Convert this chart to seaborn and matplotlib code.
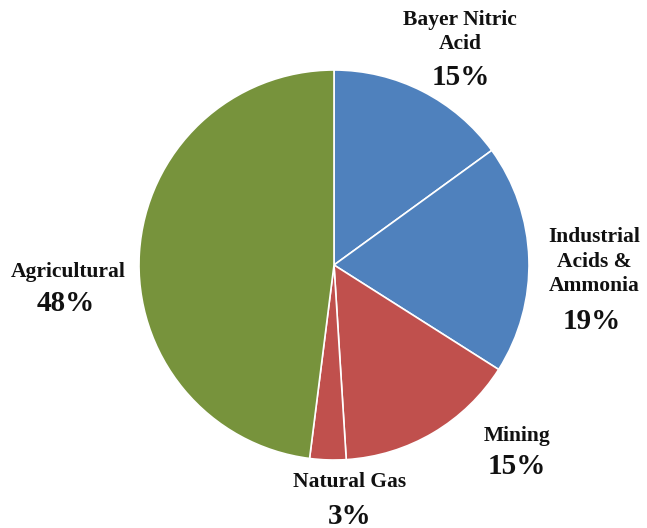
import matplotlib
matplotlib.use("Agg")
import matplotlib.pyplot as plt
import seaborn as sns

categories = ["Bayer Nitric\nAcid", "Industrial\nAcids &\nAmmonia", "Mining", "Natural Gas", "Agricultural"]
shares = [15, 19, 15, 3, 48]
slice_colors = ["#4F81BD", "#4F81BD", "#C0504D", "#C0504D", "#77933C"]

# label anchor points in pixels (x, y from top) for name and percent
name_pos = [(460, 32), (594, 262), (517, 436), (350, 482), (68, 272)]
pct_pos = [(461, 78), (592, 322), (517, 467), (350, 516), (66, 304)]

W, H = 647, 528
cx, cy, R = 334, 265, 195

sns.set_theme(style="white")
plt.rcParams['font.family'] = ['Liberation Serif', 'DejaVu Serif']

fig = plt.figure(figsize=(W / 100, H / 100), dpi=100)
ax = fig.add_axes([0, 0, 1, 1])
ax.pie(shares, colors=slice_colors, startangle=90, counterclock=False,
       radius=1, center=(0, 0),
       wedgeprops=dict(edgecolor="white", linewidth=1.2))

ax.set_xlim(-cx / R, (W - cx) / R)
ax.set_ylim(-(H - cy) / R, cy / R)
ax.set_aspect("equal")
ax.axis("off")


def to_data(px, py):
    return (px - cx) / R, (cy - py) / R


for name, val, npos, ppos in zip(categories, shares, name_pos, pct_pos):
    x, y = to_data(*npos)
    ax.text(x, y, name, ha="center", va="center", fontsize=15.5, fontweight="bold",
            linespacing=1.3, color="#111111")
    x, y = to_data(*ppos)
    ax.text(x, y, f"{val}%", ha="center", va="center", fontsize=21, fontweight="bold",
            color="#111111")

fig.savefig("out.png", dpi=100)
